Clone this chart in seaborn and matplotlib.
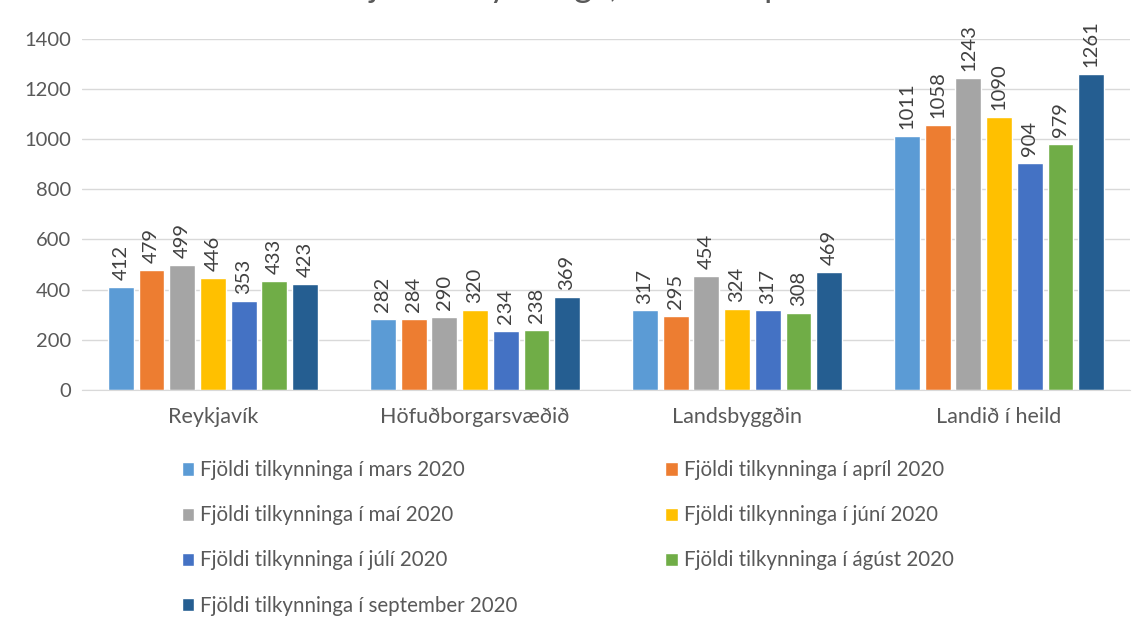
import numpy as np
import pandas as pd
import matplotlib
matplotlib.use("Agg")
import matplotlib.pyplot as plt
import seaborn as sns

regions = ["Reykjavík", "Höfuðborgarsvæðið", "Landsbyggðin", "Landið í heild"]
months = ["mars", "apríl", "maí", "júní", "júlí", "ágúst", "september"]
mars = [412, 282, 317, 1011]
april = [479, 284, 295, 1058]
mai = [499, 290, 454, 1243]
juni = [446, 320, 324, 1090]
juli = [353, 234, 317, 904]
agust = [433, 238, 308, 979]
september = [423, 369, 469, 1261]
colors = ["#5B9BD5", "#ED7D31", "#A5A5A5", "#FFC000", "#4472C4", "#70AD47", "#255E91"]

series = [mars, april, mai, juni, juli, agust, september]
labels = ["Fjöldi tilkynninga í %s 2020" % m for m in months]

rows = []
for lab, vals in zip(labels, series):
    for reg, v in zip(regions, vals):
        rows.append({"svæði": reg, "röð": lab, "fjöldi": v})
df = pd.DataFrame(rows)

sns.set_style("white")
plt.rcParams["font.family"] = ["Lato", "DejaVu Sans"]

fig = plt.figure(figsize=(11.48, 6.17), dpi=100)
ax = fig.add_axes([0.0714, 0.368, 0.913, 0.569])

sns.barplot(data=df, x="svæði", y="fjöldi", hue="röð", order=regions,
            hue_order=labels, palette=colors, width=0.82, gap=0.16,
            saturation=1, ax=ax, legend=True)

for cont in ax.containers:
    ax.bar_label(cont, rotation=90, padding=5, fontsize=14.5, color="#404040")

ax.set_ylim(0, 1400)
ax.set_yticks(range(0, 1401, 200))
ax.set_xlim(-0.5, 3.5)
ax.yaxis.grid(True, color="#D9D9D9", linewidth=1)
ax.set_axisbelow(True)
for s in ["top", "right", "left"]:
    ax.spines[s].set_visible(False)
ax.spines["bottom"].set_color("#D9D9D9")
ax.tick_params(axis="y", length=0, labelsize=14.5, colors="#595959", pad=8)
ax.tick_params(axis="x", length=0, labelsize=15.5, colors="#595959", pad=12)
ax.set_xlabel("")
ax.set_ylabel("")

handles, hl = ax.get_legend_handles_labels()
ax.get_legend().remove()
order = [0, 2, 4, 6, 1, 3, 5]
fig.legend([handles[i] for i in order], [hl[i] for i in order], ncol=2,
           loc="upper left", bbox_to_anchor=(0.142, 0.284), frameon=False,
           fontsize=14.8, labelcolor="#595959", handlelength=0.6,
           handleheight=0.6, handletextpad=0.3, labelspacing=1.22,
           columnspacing=7.2)

# titillinn er skorinn af efst eins og á fyrirmyndinni
fig.text(0.581, 1.005, "Fjöldi tilkynninga, mars - september 2020", ha="center",
         va="baseline", fontsize=25, color="#595959")

fig.savefig("out.png", dpi=100)
